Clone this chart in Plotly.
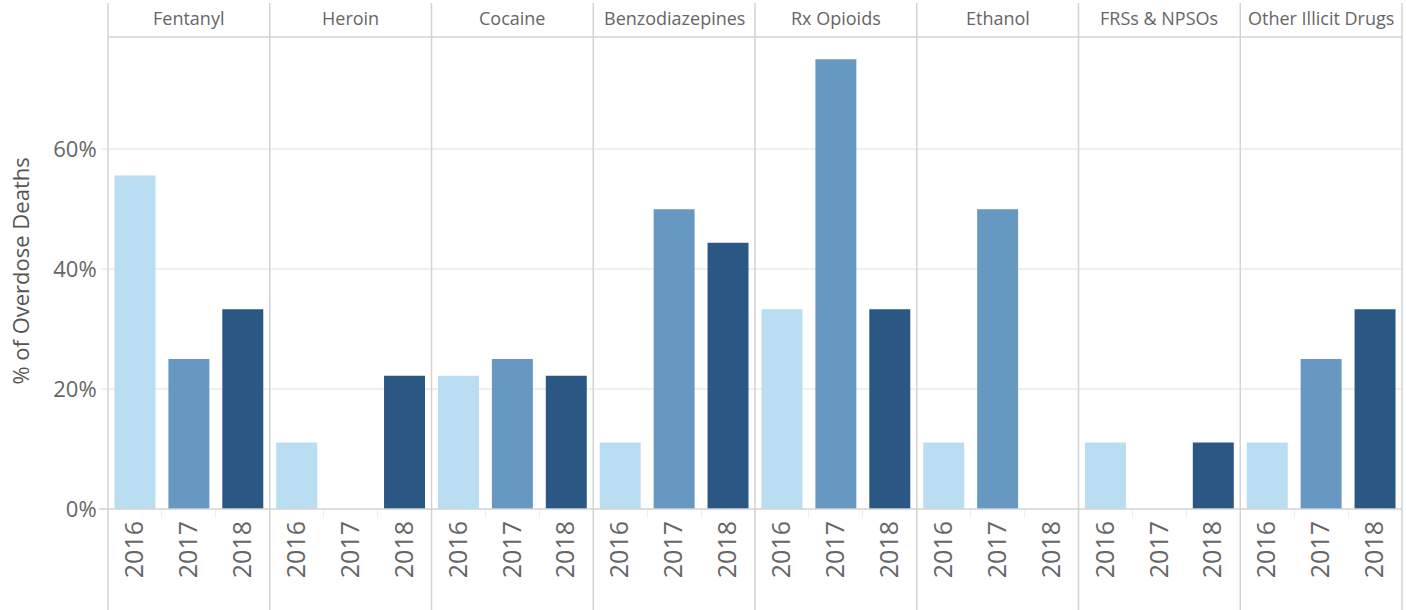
import plotly.graph_objects as go
from plotly.subplots import make_subplots

drugs = ["Fentanyl", "Heroin", "Cocaine", "Benzodiazepines", "Rx Opioids",
         "Ethanol", "FRSs & NPSOs", "Other Illicit Drugs"]
years = ["2016", "2017", "2018"]
pct_2016 = [0.556, 0.111, 0.222, 0.111, 0.333, 0.111, 0.111, 0.111]
pct_2017 = [0.250, 0.0, 0.250, 0.500, 0.750, 0.500, 0.0, 0.250]
pct_2018 = [0.333, 0.222, 0.222, 0.444, 0.333, 0.0, 0.111, 0.333]
year_colors = ["#b9ddf1", "#6798c1", "#2a5783"]
y_ticks = [0, 0.2, 0.4, 0.6]

FONT = "Open Sans"
TXT = "#666666"
LINE = "#d3d3d3"
GRID = "#efefef"

W, H = 1406, 610
ML, MR, MT, MB = 108, 4, 37, 101
PW = W - ML - MR
PH = H - MT - MB

n = len(drugs)
fig = make_subplots(rows=1, cols=n, shared_yaxes=True, horizontal_spacing=0)

for i in range(n):
    vals = [pct_2016[i], pct_2017[i], pct_2018[i]]
    fig.add_trace(go.Bar(x=years, y=vals, marker=dict(color=year_colors, line=dict(width=0)),
                         showlegend=False, hoverinfo="x+y"), row=1, col=i + 1)

fig.update_xaxes(type="category", categoryorder="array", categoryarray=years,
                 tickangle=-90, tickfont=dict(family=FONT, size=25, color=TXT),
                 ticks="outside", tickson="boundaries", ticklen=8, tickcolor=GRID,
                 ticklabelstandoff=6,
                 showline=False, showgrid=False, zeroline=False)
fig.update_yaxes(range=[0, 0.787], tickvals=y_ticks, tickformat=".0%",
                 showgrid=True, gridcolor=GRID, gridwidth=1.5, zeroline=False,
                 showline=False)
fig.update_yaxes(ticks="outside", ticklen=6, tickcolor=GRID, tickwidth=1.5,
                 tickfont=dict(family=FONT, size=22, color=TXT), row=1, col=1)

shapes = []
top = (H - MB - 3) / PH
bottom = -MB / PH
for i in range(n + 1):
    shapes.append(dict(type="line", xref="paper", yref="paper", x0=i / n, x1=i / n,
                       y0=bottom, y1=top, line=dict(color=LINE, width=1.5)))
shapes.append(dict(type="line", xref="paper", yref="paper", x0=0, x1=1, y0=1, y1=1,
                   line=dict(color=LINE, width=1.5)))
shapes.append(dict(type="line", xref="paper", yref="paper", x0=-9 / PW, x1=1, y0=0, y1=0,
                   line=dict(color=LINE, width=1.5)))

annotations = []
for i, d in enumerate(drugs):
    annotations.append(dict(text=d, xref="paper", yref="paper", x=(i + 0.5) / n,
                            y=1 + 19 / PH, xanchor="center", yanchor="middle",
                            showarrow=False, font=dict(family=FONT, size=18, color=TXT)))
annotations.append(dict(text="% of Overdose Deaths", xref="paper", yref="paper",
                        x=(20 - ML) / PW, y=0.503, textangle=-90, xanchor="center",
                        yanchor="middle", showarrow=False,
                        font=dict(family=FONT, size=22, color="#555555")))

fig.update_layout(width=W, height=H, margin=dict(l=ML, r=MR, t=MT, b=MB),
                  plot_bgcolor="white", paper_bgcolor="white", bargap=0.24,
                  shapes=shapes, annotations=annotations,
                  font=dict(family=FONT, color=TXT))

fig.write_html("out.html", config={"displayModeBar": False},
               post_script="document.body.style.margin='0';document.body.style.overflow='hidden';")
